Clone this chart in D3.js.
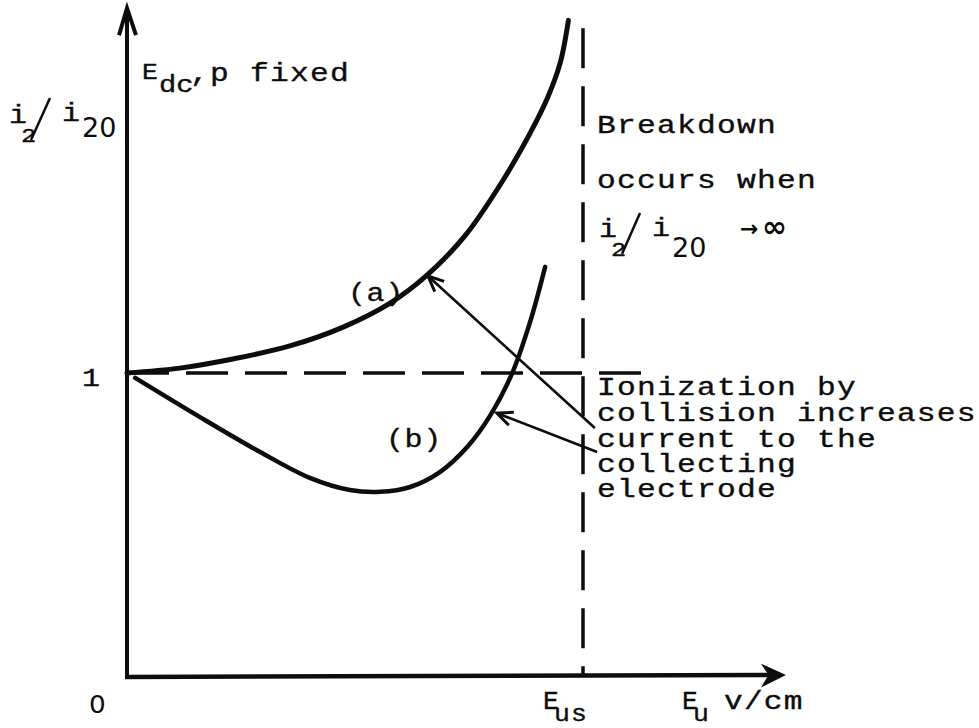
<!DOCTYPE html>
<html><head><meta charset="utf-8">
<script src="https://cdn.jsdelivr.net/npm/d3@7"></script>
<style>body{margin:0;background:#fff}</style>
</head><body>
<svg id="c" width="979" height="728"></svg>
<script>
// ---- data (E_u in units of E_us, i2/i20 ratio) ----
const xMax = 1.44, yMax = 2.2;
const eus = 1;            // breakdown field E_us
const refLevel = 1;       // i2/i20 = 1
const refEnd = 1.16;      // extent of dashed reference line
const curveAx = [0, 0.116, 0.232, 0.357, 0.474, 0.577, 0.658, 0.741, 0.825, 0.884, 0.923, 0.950, 0.968];
const curveAy = [1, 1.016, 1.046, 1.089, 1.151, 1.230, 1.322, 1.451, 1.635, 1.789, 1.908, 2.020, 2.160];
const curveBx = [0.018, 0.160, 0.292, 0.401, 0.489, 0.555, 0.621, 0.686, 0.748, 0.796, 0.844, 0.884, 0.917];
const curveBy = [0.984, 0.855, 0.740, 0.655, 0.615, 0.609, 0.625, 0.674, 0.760, 0.859, 0.997, 1.168, 1.349];
const arrowA = [[1.026, 0.819], [0.660, 1.319]];
const arrowB = [[1.031, 0.740], [0.811, 0.868]];
const noteLines = ["Ionization by", "collision increases", "current to the", "collecting", "electrode"];
const breakLines = ["Breakdown", "occurs when"];

const svg = d3.select("#c");
const x = d3.scaleLinear().domain([0, 1]).range([127, 583]);
const y = d3.scaleLinear().domain([0, 1]).range([677, 373]);
const ink = "#0d0d0d";
const mono = "'Liberation Mono','DejaVu Sans Mono',monospace";

// axes
svg.append("line").attr("x1", x(0)).attr("y1", y(0)).attr("x2", x(0)).attr("y2", y(yMax) + 3)
  .attr("stroke", ink).attr("stroke-width", 4);
svg.append("line").attr("x1", x(0) - 2).attr("y1", y(0)).attr("x2", x(xMax) - 4).attr("y2", y(0) - 2)
  .attr("stroke", ink).attr("stroke-width", 4.5);
svg.append("path").attr("d", `M${x(0)-8},${y(yMax)+27} L${x(0)},${y(yMax)} L${x(0)+9},${y(yMax)+27}`)
  .attr("fill", "none").attr("stroke", ink).attr("stroke-width", 4).attr("stroke-linejoin", "miter");
svg.append("path").attr("d", `M${x(xMax)-20},${y(0)-11} L${x(xMax)},${y(0)-2} L${x(xMax)-20},${y(0)+8} L${x(xMax)-14},${y(0)-2} Z`)
  .attr("fill", ink).attr("stroke", ink).attr("stroke-width", 2);

// dashed lines
svg.append("line").attr("x1", x(0)).attr("y1", y(refLevel)).attr("x2", x(refEnd)).attr("y2", y(refLevel))
  .attr("stroke", ink).attr("stroke-width", 3.5).attr("stroke-dasharray", "42 17");
svg.append("line").attr("x1", x(eus)).attr("y1", y(yMax) + 20).attr("x2", x(eus)).attr("y2", y(0))
  .attr("stroke", ink).attr("stroke-width", 3.5).attr("stroke-dasharray", "40 18");

// curves
const line = d3.line().x(d => x(d[0])).y(d => y(d[1])).curve(d3.curveCatmullRom.alpha(0.5));
svg.append("path").datum(d3.zip(curveAx, curveAy)).attr("d", line)
  .attr("fill", "none").attr("stroke", ink).attr("stroke-width", 5).attr("stroke-linecap", "round");
svg.append("path").datum(d3.zip(curveBx, curveBy)).attr("d", line)
  .attr("fill", "none").attr("stroke", ink).attr("stroke-width", 4.5).attr("stroke-linecap", "round");

// annotation arrows
function arrow(a) {
  const [x1, y1] = [x(a[0][0]), y(a[0][1])], [x2, y2] = [x(a[1][0]), y(a[1][1])];
  svg.append("line").attr("x1", x1).attr("y1", y1).attr("x2", x2).attr("y2", y2)
    .attr("stroke", ink).attr("stroke-width", 2.6);
  const ang = Math.atan2(y1 - y2, x1 - x2), L = 17, s = 0.42;
  svg.append("path").attr("d",
    `M${x2 + L*Math.cos(ang+s)},${y2 + L*Math.sin(ang+s)} L${x2},${y2} L${x2 + L*Math.cos(ang-s)},${y2 + L*Math.sin(ang-s)}`)
    .attr("fill", "none").attr("stroke", ink).attr("stroke-width", 3);
}
arrow(arrowA); arrow(arrowB);

// text helpers: typewriter look = monospace stretched horizontally
function txt(t, px, py, size, extra, sx) {
  return svg.append("text").attr("transform", `translate(${px},${py}) scale(${sx || 1.2},1)`).text(t)
    .attr("font-family", mono).attr("font-size", size).attr("fill", ink)
    .attr("letter-spacing", extra || 0).attr("stroke", ink).attr("stroke-width", 0.35);
}
function sans(t, px, py, size, weight) {
  return svg.append("text").attr("x", px).attr("y", py).text(t)
    .attr("font-family", "'DejaVu Sans',sans-serif").attr("font-size", size)
    .attr("font-weight", weight || "normal").attr("fill", ink);
}
// y label i2/i20
txt("i", 9, 123, 25);
txt("2", 21, 142, 21);
svg.append("line").attr("x1", 31).attr("y1", 140).attr("x2", 50).attr("y2", 98).attr("stroke", ink).attr("stroke-width", 2.5);
txt("i", 62, 121, 25);
sans("20", 82, 137, 27);

// E_dc, p fixed
txt("E", 142, 79, 22);
txt("dc", 159, 92, 24);
txt(",p fixed", 190, 81, 25, 1, 1.25);

txt("1", 82, 386, 25);
txt("(a)", 348, 301, 25, 0.5);
txt("(b)", 386, 447, 25, 0.5);

breakLines.forEach((t, i) => txt(t, 597, [133, 188][i], 25, 1, 1.25));
txt("i", 599, 237, 25);
txt("2", 611, 256, 21);
svg.append("line").attr("x1", 622).attr("y1", 254).attr("x2", 640).attr("y2", 213).attr("stroke", ink).attr("stroke-width", 2.5);
txt("i", 652, 236, 25);
sans("20", 672, 257, 27);
sans("→", 740, 236, 22, "bold");
sans("∞", 762, 237, 30, "bold");

noteLines.forEach((t, i) => txt(t, 597, [395, 421, 447, 472, 497][i], 25, 1, 1.25));

// bottom labels
svg.append("text").attr("transform", "translate(89,713) scale(1.05,1)").text("0")
  .attr("font-family", "'DejaVu Sans',sans-serif").attr("font-size", 25).attr("fill", ink);
txt("E", 543, 709, 25, 0, 1.05);
txt("us", 554, 721, 24, 1, 1.1);
txt("E", 682, 709, 25, 0, 1.05);
txt("u", 693, 721, 24, 0, 1.1);
txt("v/cm", 724, 709, 26, 1, 1.2);
</script>
</body></html>
